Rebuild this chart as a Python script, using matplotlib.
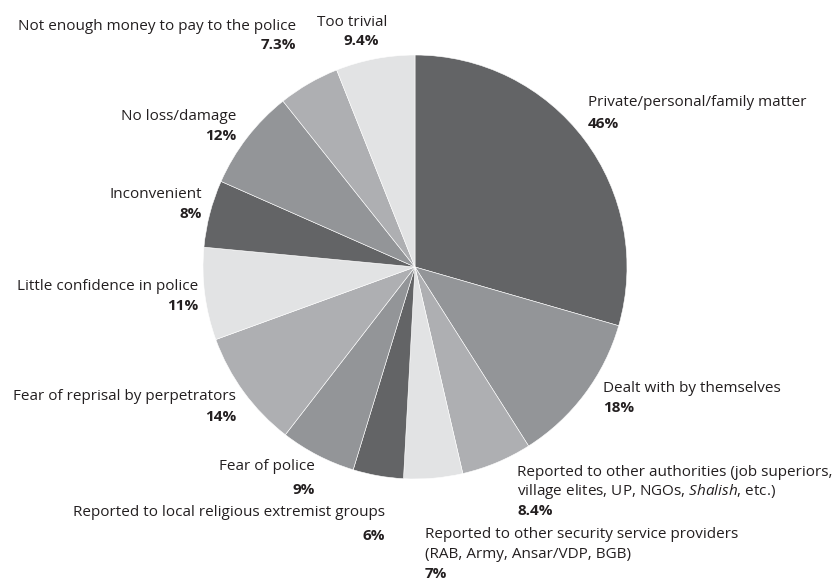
import matplotlib
matplotlib.use('Agg')
import matplotlib.pyplot as plt

plt.rcParams['font.family'] = ['Open Sans', 'DejaVu Sans']
plt.rcParams['mathtext.fontset'] = 'custom'
plt.rcParams['mathtext.rm'] = 'Open Sans'
plt.rcParams['mathtext.it'] = 'Open Sans:italic'

# reasons for not reporting, clockwise from 12 o'clock
reasons = [
    ['Private/personal/family matter'],
    ['Dealt with by themselves'],
    ['Reported to other authorities (job superiors,',
     'village elites, UP, NGOs, $\\mathit{Shalish}$, etc.)'],
    ['Reported to other security service providers',
     '(RAB, Army, Ansar/VDP, BGB)'],
    ['Reported to local religious extremist groups'],
    ['Fear of police'],
    ['Fear of reprisal by perpetrators'],
    ['Little confidence in police'],
    ['Inconvenient'],
    ['No loss/damage'],
    ['Not enough money to pay to the police'],
    ['Too trivial'],
]
shares = [46, 18, 8.4, 7, 6, 9, 14, 11, 8, 12, 7.3, 9.4]
pct_labels = ['46%', '18%', '8.4%', '7%', '6%', '9%', '14%', '11%', '8%', '12%', '7.3%', '9.4%']

greys = ['#636466', '#939598', '#aeafb2', '#e2e3e4']
colors = [greys[i % 4] for i in range(len(shares))]

W, H = 836, 583
fig = plt.figure(figsize=(W / 100, H / 100), dpi=100)
ax = fig.add_axes([0, 0, 1, 1])

ax.pie(shares, colors=colors, startangle=90, counterclock=False,
       center=(415, H - 267), radius=212, frame=True,
       wedgeprops=dict(linewidth=0.4, edgecolor='white'))
ax.set_xlim(0, W)
ax.set_ylim(0, H)
ax.set_aspect('equal')
ax.axis('off')

# label anchors: x, y of first line, alignment, line step, percent x shift
spots = [
    (588, 103, 'left', 21, 0),
    (603, 388, 'left', 20, 0),
    (517, 472, 'left', 19.5, 0),
    (425, 535, 'left', 19.5, 0),
    (385, 513, 'right', 23, 0),
    (315, 467, 'right', 23, 0),
    (236, 397, 'right', 20, 0),
    (198, 286, 'right', 20, 0),
    (202, 194, 'right', 20, 0),
    (236, 116, 'right', 20, 0),
    (296, 26, 'right', 19, 0),
    (387, 22, 'right', 19, -8),
]

fs = 11.0
for lines, pct, (x, y, ha, step, dx) in zip(reasons, pct_labels, spots):
    for i, line in enumerate(lines):
        ax.text(x, H - (y + step * i), line, ha=ha, va='center',
                fontsize=fs, color='#231f20')
    ax.text(x + dx, H - (y + step * len(lines)), pct, ha=ha, va='center',
            fontsize=fs, fontweight='bold', color='#231f20')

fig.savefig('out.png', dpi=100)
